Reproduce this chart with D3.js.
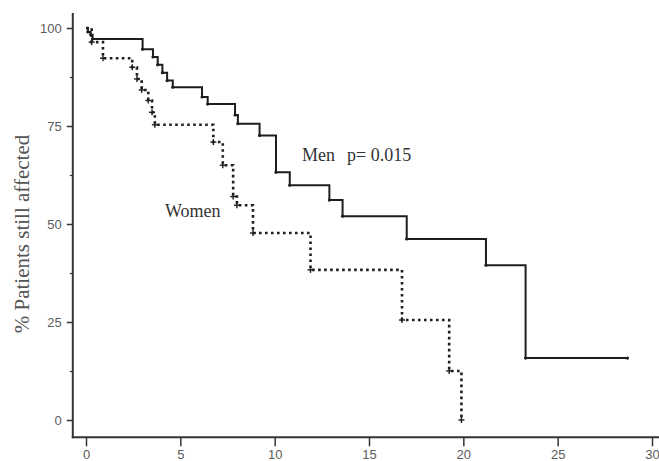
<!DOCTYPE html>
<html>
<head>
<meta charset="utf-8">
<script src="https://cdn.jsdelivr.net/npm/d3@7"></script>
<style>
  html, body { margin: 0; padding: 0; background: #fff; }
  svg { display: block; }
</style>
</head>
<body>
<script>
// ---- data ----
const menTime   = [0, 0.1, 0.25, 0.35, 3.0, 3.55, 3.8, 4.05, 4.3, 4.6, 6.15, 6.45, 7.9, 8.05, 9.2, 10.07, 10.8, 12.9, 13.6, 17.0, 21.2, 23.3, 28.7];
const menValue  = [100, 99, 98.3, 97.2, 94.6, 92.6, 90.6, 88.6, 86.6, 84.9, 82.4, 80.6, 77.8, 75.6, 72.6, 63.2, 59.9, 56.1, 52.0, 46.2, 39.5, 15.8, 15.8];
const womenTime  = [0, 0.3, 0.9, 2.45, 2.7, 2.95, 3.3, 3.5, 3.65, 6.75, 7.25, 7.8, 8.0, 8.85, 11.9, 16.75, 19.25, 19.9];
const womenValue = [100, 96.4, 92.3, 90, 87, 84.2, 81.5, 78.5, 75.3, 70.9, 65, 57, 54.8, 47.7, 38.3, 25.5, 12.5, 0];
const xTicks = [0, 5, 10, 15, 20, 25, 30];
const yTicks = [0, 25, 50, 75, 100];
const yMinorTicks = [12.5, 37.5, 62.5, 87.5];
const yLabel = "% Patients still affected";
const menLabel = "Men";
const pLabel = "p= 0.015";
const womenLabel = "Women";

const W = 659, H = 461;
const svg = d3.select("body").append("svg").attr("width", W).attr("height", H);

const x = d3.scaleLinear().domain([0, 30]).range([86, 652]);
const y = d3.scaleLinear().domain([0, 100]).range([420, 28]);

const axisColor = "#333";
const tickText = "#5a5a5a";
const xAxisY = y(-4.4);
const yAxisX = x(-0.7);

// axis lines
svg.append("line").attr("x1", yAxisX).attr("x2", yAxisX)
  .attr("y1", y(103.8)).attr("y2", xAxisY + 1)
  .attr("stroke", axisColor).attr("stroke-width", 2);
svg.append("line").attr("x1", yAxisX - 1).attr("x2", W)
  .attr("y1", xAxisY).attr("y2", xAxisY)
  .attr("stroke", axisColor).attr("stroke-width", 2);

// y axis
const gy = svg.append("g").attr("transform", `translate(${yAxisX},0)`)
  .call(d3.axisLeft(y).tickValues(yTicks).tickSize(6).tickPadding(5));
gy.select(".domain").remove();
gy.selectAll(".tick line").attr("stroke", axisColor).attr("stroke-width", 1.5);
gy.selectAll(".tick text").attr("fill", tickText)
  .style("font-family", "'Liberation Sans', Arial, sans-serif").style("font-size", "13px");

const gym = svg.append("g").attr("transform", `translate(${yAxisX},0)`)
  .call(d3.axisLeft(y).tickValues(yMinorTicks).tickSize(3).tickFormat(""));
gym.select(".domain").remove();
gym.selectAll(".tick line").attr("stroke", axisColor).attr("stroke-width", 1.2);

// x axis
const gx = svg.append("g").attr("transform", `translate(0,${xAxisY})`)
  .call(d3.axisBottom(x).tickValues(xTicks).tickSize(9).tickPadding(4));
gx.select(".domain").remove();
gx.selectAll(".tick line").attr("stroke", axisColor).attr("stroke-width", 1.5);
gx.selectAll(".tick text").attr("fill", tickText)
  .style("font-family", "'Liberation Sans', Arial, sans-serif").style("font-size", "13px");

// curves
const men = menTime.map((t, i) => ({t, v: menValue[i]}));
const women = womenTime.map((t, i) => ({t, v: womenValue[i]}));
const line = d3.line().x(d => x(d.t)).y(d => y(d.v)).curve(d3.curveStepAfter);

svg.append("path").datum(men).attr("d", line)
  .attr("fill", "none").attr("stroke", "#1e1e1e").attr("stroke-width", 2);

svg.append("path").datum(women).attr("d", line)
  .attr("fill", "none").attr("stroke", "#1e1e1e").attr("stroke-width", 2.6)
  .attr("stroke-dasharray", "2.6,3.4");

// step markers
svg.append("g").selectAll("circle").data(men.slice(1)).join("circle")
  .attr("cx", d => x(d.t)).attr("cy", d => y(d.v)).attr("r", 1.6).attr("fill", "#1e1e1e");
const cross = svg.append("g").attr("stroke", "#1e1e1e").attr("stroke-width", 1.4);
women.slice(1).forEach(d => {
  cross.append("line").attr("x1", x(d.t) - 3).attr("x2", x(d.t) + 3).attr("y1", y(d.v)).attr("y2", y(d.v));
  cross.append("line").attr("x1", x(d.t)).attr("x2", x(d.t)).attr("y1", y(d.v) - 3).attr("y2", y(d.v) + 3);
});

// labels
const serif = "'Liberation Serif', 'Times New Roman', serif";
svg.append("text").attr("x", 302).attr("y", 161).text(menLabel)
  .style("font-family", serif).style("font-size", "18px").attr("fill", "#333");
svg.append("text").attr("x", 347).attr("y", 161).text(pLabel)
  .style("font-family", serif).style("font-size", "18px").attr("fill", "#333");
svg.append("text").attr("x", 165).attr("y", 217).text(womenLabel)
  .style("font-family", serif).style("font-size", "18px").attr("fill", "#333");
svg.append("text").attr("transform", "translate(29,234) rotate(-90)")
  .attr("text-anchor", "middle").text(yLabel)
  .style("font-family", serif).style("font-size", "21px").attr("fill", "#555");
</script>
</body>
</html>
